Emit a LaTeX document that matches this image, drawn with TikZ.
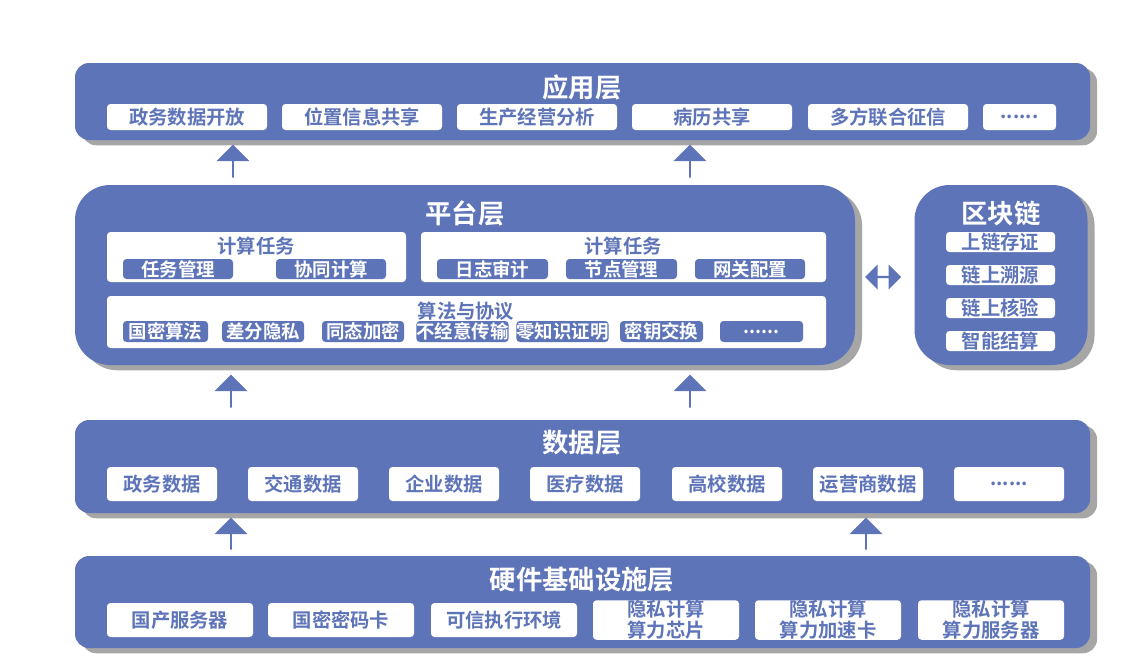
\documentclass[tikz,border=0pt]{standalone}
\usepackage{fontspec}
\setmainfont{Noto Sans CJK SC}[BoldFont={Noto Sans CJK SC Bold}]
\usetikzlibrary{shapes.arrows,shadows}
\definecolor{lb}{RGB}{94,116,184}
\tikzset{
  layer/.style={fill=lb,draw=none,rounded corners=8pt,drop shadow={shadow xshift=4pt,shadow yshift=-3pt,fill=gray,opacity=.7}},
  wbox/.style={fill=white,draw=none,rounded corners=2pt,text=lb,font=\bfseries\fontsize{11}{12}\selectfont,inner sep=0pt,align=center},
  sbox/.style={fill=lb,draw=none,rounded corners=2pt,text=white,font=\bfseries\fontsize{10.5}{11}\selectfont,inner sep=0pt},
  ttl/.style={text=white,font=\bfseries\fontsize{15}{16}\selectfont},
  sttl/.style={text=lb,font=\bfseries\fontsize{11}{12}\selectfont},
  uparrow/.style={single arrow,fill=lb,draw=none,rotate=90,minimum width=32\pgfmathresult pt,single arrow head extend=3pt,minimum height=33*0.6pt,inner sep=0pt}
}
\newcommand{\bx}[7]{\node[#1,minimum width={(#5-#3)*0.02cm},minimum height={(#6-#4)*0.02cm}] (#2) at ({(#3+#5)/2},{(#4+#6)/2}) {#7};}
\newcommand{\uar}[4]{\node[single arrow,fill=lb,draw=none,rotate=90,inner sep=0pt,minimum width=0.66cm,single arrow head extend=0.12cm,single arrow head indent=0pt,minimum height={(#4-#3)*0.02cm}] (#1) at (#2,{(#3+#4)/2}) {};}
\begin{document}
\begin{tikzpicture}[x=0.02cm,y=-0.02cm]
\useasboundingbox (0,0) rectangle (1135,666);
% application layer
\bx{layer}{app}{75}{63}{1090}{140}{}
\node[ttl] (appt) at (582,87) {应用层};
\bx{wbox}{a1}{107}{104}{267}{130}{政务数据开放}
\bx{wbox}{a2}{282}{104}{442}{130}{位置信息共享}
\bx{wbox}{a3}{457}{104}{617}{130}{生产经营分析}
\bx{wbox}{a4}{632}{104}{792}{130}{病历共享}
\bx{wbox}{a5}{808}{104}{968}{130}{多方联合征信}
\bx{wbox}{a6}{983}{104}{1056}{130}{......}
\uar{ar1}{233}{145}{178}
\uar{ar2}{690}{145}{178}
% platform layer
\node[layer,rounded corners=20pt,minimum width={780*0.02cm},minimum height={180*0.02cm}] (plat) at (465,275) {};
\node[ttl] (platt) at (465,213) {平台层};
\bx{wbox}{c1}{107}{232}{406}{282}{}
\node[sttl] (c1t) at (256,246) {计算任务};
\bx{sbox}{c11}{123}{259}{233}{279}{任务管理}
\bx{sbox}{c12}{276}{259}{386}{279}{协同计算}
\bx{wbox}{c2}{421}{232}{826}{282}{}
\node[sttl] (c2t) at (623,246) {计算任务};
\bx{sbox}{c21}{437}{259}{548}{279}{日志审计}
\bx{sbox}{c22}{566}{259}{677}{279}{节点管理}
\bx{sbox}{c23}{695}{259}{805}{279}{网关配置}
\bx{wbox}{c3}{107}{296}{826}{348}{}
\node[sttl] (c3t) at (466,311) {算法与协议};
\bx{sbox}{p1}{123}{321}{208}{342}{国密算法}
\bx{sbox}{p2}{222}{321}{304}{342}{差分隐私}
\bx{sbox}{p3}{322}{321}{404}{342}{同态加密}
\bx{sbox}{p4}{421}{321}{504}{342}{不经意传输}
\bx{sbox}{p5}{521}{321}{604}{342}{零知识证明}
\bx{sbox}{p6}{620}{321}{703}{342}{密钥交换}
\bx{sbox}{p7}{720}{321}{803}{342}{......}
% blockchain
\node[layer,rounded corners=20pt,minimum width={173*0.02cm},minimum height={180*0.02cm}] (bc) at (1001,275) {};
\node[ttl] (bct) at (1001,213) {区块链};
\bx{wbox}{b1}{946}{232}{1055}{252}{上链存证}
\bx{wbox}{b2}{946}{265}{1055}{285}{链上溯源}
\bx{wbox}{b3}{946}{298}{1055}{318}{链上核验}
\bx{wbox}{b4}{946}{331}{1055}{351}{智能结算}
\node[double arrow,fill=lb,draw=none,inner sep=0pt,minimum width=0.5cm,double arrow head extend=0.08cm,double arrow head indent=0pt,minimum height=0.72cm] (dar) at (883,277) {};
\uar{ar3}{231}{375}{408}
\uar{ar4}{690}{375}{408}
% data layer
\bx{layer}{data}{75}{420}{1090}{513}{}
\node[ttl] (datat) at (582,443) {数据层};
\bx{wbox}{d1}{107}{467}{217}{501}{政务数据}
\bx{wbox}{d2}{248}{467}{358}{501}{交通数据}
\bx{wbox}{d3}{389}{467}{499}{501}{企业数据}
\bx{wbox}{d4}{530}{467}{640}{501}{医疗数据}
\bx{wbox}{d5}{672}{467}{782}{501}{高校数据}
\bx{wbox}{d6}{813}{467}{923}{501}{运营商数据}
\bx{wbox}{d7}{954}{467}{1064}{501}{......}
\uar{ar5}{231}{518}{550}
\uar{ar6}{866}{518}{550}
% hardware
\bx{layer}{hw}{75}{556}{1090}{648}{}
\node[ttl] (hwt) at (582,580) {硬件基础设施层};
\bx{wbox}{h1}{107}{603}{253}{637}{国产服务器}
\bx{wbox}{h2}{268}{603}{414}{637}{国密密码卡}
\bx{wbox}{h3}{431}{603}{577}{637}{可信执行环境}
\bx{wbox}{h4}{593}{603}{739}{637}{隐私计算\\算力芯片}
\bx{wbox}{h5}{755}{603}{901}{637}{隐私计算\\算力加速卡}
\bx{wbox}{h6}{918}{603}{1064}{637}{隐私计算\\算力服务器}
\end{tikzpicture}
\end{document}
